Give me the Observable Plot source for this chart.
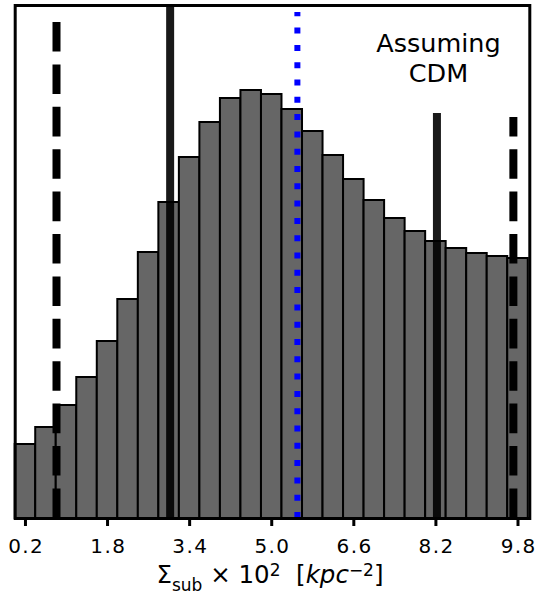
<!DOCTYPE html>
<html><head><meta charset="utf-8">
<script src="https://cdn.jsdelivr.net/npm/d3@7"></script>
<script src="https://cdn.jsdelivr.net/npm/@observablehq/plot@0.6"></script>
<style>body{margin:0;background:#fff;} svg{font-family:"DejaVu Sans";}</style>
</head><body><div id="chart"></div>
<script>
// Histogram bins (lower edges and upper edges) and heights
const binLo = [0.0,0.4,0.8,1.2,1.6,2.0,2.4,2.8,3.2,3.6,4.0,4.4,4.8,5.2,5.6,6.0,6.4,6.8,7.2,7.6,8.0,8.4,8.8,9.2,9.6];
const binHi = [0.4,0.8,1.2,1.6,2.0,2.4,2.8,3.2,3.6,4.0,4.4,4.8,5.2,5.6,6.0,6.4,6.8,7.2,7.6,8.0,8.4,8.8,9.2,9.6,10.0];
const counts = [74,91,113,141,177,219,266,316,361,396,420,428,424,409,387,363,339,318,300,287,277,270,265,262,260];

// Vertical reference lines
const dashedX = [0.805, 9.71];
const dashedTop = [505, 401];
const solidX = [3.02, 8.22];
const solidTop = [513, 405];
const dottedX = [5.50];
const dottedTop = [506];

// Tick labels
const xTicks = [0.2, 1.8, 3.4, 5.0, 6.6, 8.2, 9.8];

// Annotation
const annotText = ["Assuming\nCDM"];
const annotX = [8.25];
const annotY = [488];

const bins = binLo.map((lo, i) => ({lo, hi: binHi[i], count: counts[i]}));
const toRules = (xs, tops) => xs.map((x, i) => ({x, top: tops[i]}));
const annot = annotText.map((t, i) => ({t, x: annotX[i], y: annotY[i]}));

const chart = Plot.plot({
  width: 536, height: 598,
  marginLeft: 14.7, marginRight: 6.7, marginTop: 5, marginBottom: 80,
  x: {domain: [0, 10.03]},
  y: {domain: [0, 513], axis: null},
  style: {fontFamily: "DejaVu Sans", color: "black", background: "white"},
  marks: [
    Plot.rectY(bins, {x1: "lo", x2: "hi", y: "count", fill: "#666666", stroke: "black", strokeWidth: 2, inset: 0}),
    Plot.ruleX(toRules(solidX, solidTop), {x: "x", y1: 0, y2: "top", stroke: "black", strokeOpacity: 0.9, strokeWidth: 8, clip: "frame"}),
    Plot.ruleX(toRules(dashedX, dashedTop), {x: "x", y1: 0, y2: "top", stroke: "black", strokeWidth: 8, strokeDasharray: "29.6,12.8"}),
    Plot.ruleX(toRules(dottedX, dottedTop), {x: "x", y1: 0, y2: "top", stroke: "#0000ff", strokeWidth: 6, strokeDasharray: "6,11.3"}),
    Plot.text(annot, {x: "x", y: "y", text: "t", fontSize: 25.5, lineAnchor: "top", lineHeight: 1.18, textAnchor: "middle", fill: "black"}),
    Plot.frame({stroke: "black", strokeWidth: 3}),
    Plot.axisX({ticks: xTicks, tickSize: 8, tickPadding: 12, strokeWidth: 3, fontSize: 20, tickFormat: d3.format(".1f"), label: null})
  ]
});
document.getElementById("chart").appendChild(chart);

const svg = d3.select(chart);
// mathtext-like wider spacing of tick labels
svg.selectAll('g[aria-label="x-axis tick label"] text')
  .style("letter-spacing", "1.4px")
  .attr("dx", 0.7);

// x-axis label with sub/superscripts
const lbl = svg.append("text")
  .attr("x", 270).attr("y", 583)
  .attr("text-anchor", "middle")
  .attr("font-family", "DejaVu Sans")
  .attr("font-size", 24.5)
  .attr("fill", "black");
lbl.append("tspan").text("Σ");
lbl.append("tspan").attr("font-size", 17).attr("dy", 8).text("sub");
lbl.append("tspan").attr("dy", -8).text(" × 10");
lbl.append("tspan").attr("font-size", 17).attr("dy", -7).text("2");
lbl.append("tspan").attr("dy", 7).text("  [");
lbl.append("tspan").attr("font-style", "italic").text("kpc");
lbl.append("tspan").attr("font-size", 17).attr("dy", -7).text("−2");
lbl.append("tspan").attr("dy", 7).text("]");
</script>
</body></html>
